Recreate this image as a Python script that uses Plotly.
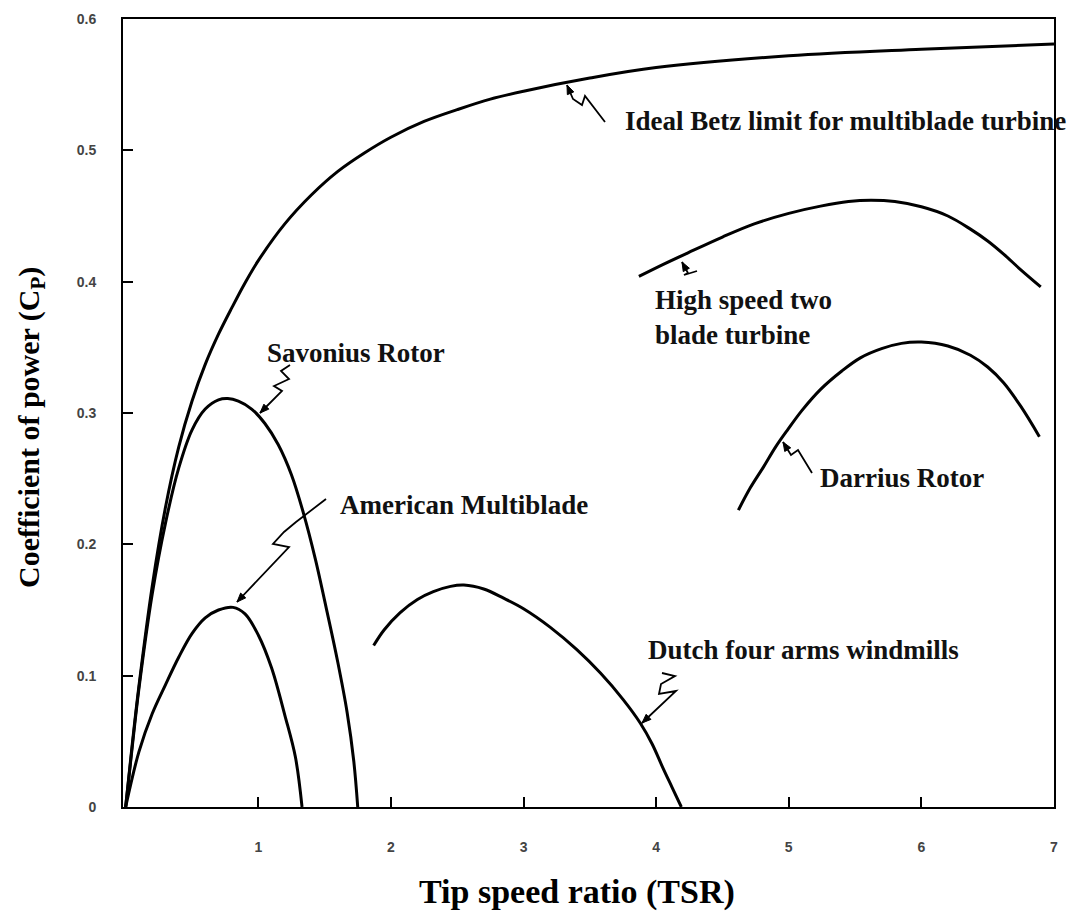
import math
import plotly.graph_objects as go

# ---------------- data ----------------
betz_x = [0.0, 0.05, 0.1, 0.2, 0.3, 0.4, 0.5, 0.6, 0.7, 0.8, 0.9, 1.0, 1.2, 1.4, 1.6, 1.8, 2.0, 2.25, 2.5, 2.75, 3.0, 3.5, 4.0, 5.0, 6.0, 7.0]
betz_y = [0.0, 0.048, 0.092, 0.168, 0.228, 0.274, 0.309, 0.337, 0.360, 0.380, 0.399, 0.416, 0.444, 0.466, 0.484, 0.498, 0.510, 0.522, 0.531, 0.539, 0.545, 0.555, 0.563, 0.572, 0.577, 0.581]

savonius_x = [0.0, 0.05, 0.1, 0.2, 0.3, 0.4, 0.5, 0.6, 0.7, 0.77, 0.85, 0.95, 1.05, 1.15, 1.25, 1.34, 1.43, 1.52, 1.60, 1.67, 1.72, 1.75]
savonius_y = [0.0, 0.046, 0.090, 0.162, 0.216, 0.258, 0.287, 0.303, 0.310, 0.311, 0.309, 0.303, 0.292, 0.276, 0.253, 0.224, 0.189, 0.148, 0.110, 0.072, 0.035, 0.0]

american_x = [0.0, 0.1, 0.2, 0.3, 0.4, 0.5, 0.6, 0.7, 0.81, 0.9, 1.0, 1.1, 1.2, 1.28, 1.33]
american_y = [0.0, 0.042, 0.071, 0.093, 0.114, 0.132, 0.144, 0.150, 0.152, 0.147, 0.131, 0.106, 0.070, 0.038, 0.0]

dutch_x = [1.87, 1.95, 2.07, 2.2, 2.32, 2.45, 2.55, 2.7, 2.85, 3.0, 3.2, 3.4, 3.58, 3.75, 3.88, 3.97, 4.05, 4.12, 4.19]
dutch_y = [0.123, 0.135, 0.148, 0.158, 0.164, 0.168, 0.169, 0.166, 0.159, 0.151, 0.137, 0.120, 0.102, 0.082, 0.064, 0.048, 0.030, 0.015, 0.0]

highspeed_x = [3.87, 4.05, 4.24, 4.5, 4.74, 5.0, 5.24, 5.45, 5.62, 5.8, 6.0, 6.2, 6.37, 6.5, 6.62, 6.75, 6.9]
highspeed_y = [0.404, 0.413, 0.422, 0.434, 0.444, 0.452, 0.4575, 0.461, 0.462, 0.461, 0.457, 0.450, 0.440, 0.431, 0.421, 0.409, 0.396]

darrius_x = [4.62, 4.71, 4.81, 4.9, 4.99, 5.1, 5.24, 5.4, 5.54, 5.7, 5.85, 6.0, 6.2, 6.37, 6.5, 6.62, 6.75, 6.89]
darrius_y = [0.226, 0.243, 0.259, 0.274, 0.287, 0.302, 0.318, 0.332, 0.342, 0.349, 0.353, 0.354, 0.351, 0.344, 0.335, 0.323, 0.305, 0.282]

x_tickvals = [1, 2, 3, 4, 5, 6, 7]
x_ticktext = ["1", "2", "3", "4", "5", "6", "7"]
y_tickvals = [0, 0.1, 0.2, 0.3, 0.4, 0.5, 0.6]
y_ticktext = ["0", "0.1", "0.2", "0.3", "0.4", "0.5", "0.6"]

series = [
    ("Ideal Betz limit", betz_x, betz_y),
    ("Savonius Rotor", savonius_x, savonius_y),
    ("American Multiblade", american_x, american_y),
    ("Dutch four arms windmills", dutch_x, dutch_y),
    ("High speed two blade turbine", highspeed_x, highspeed_y),
    ("Darrius Rotor", darrius_x, darrius_y),
]

# ---------------- layout geometry ----------------
W, H = 1078, 912
ML, MR, MT, MB = 123, 24, 19, 105
PW, PH = W - ML - MR, H - MT - MB
XR = [-0.02, 7.0]
YR = [0.0, 0.6]


def px2x(px):
    return XR[0] + (px - ML) / PW * (XR[1] - XR[0])


def px2y(py):
    return YR[0] + (MT + PH - py) / PH * (YR[1] - YR[0])


fig = go.Figure()
for name, xs, ys in series:
    fig.add_trace(go.Scatter(x=xs, y=ys, mode="lines", name=name,
                             line=dict(color="black", width=3, shape="spline", smoothing=1.0),
                             showlegend=False, hoverinfo="skip"))

label_font = dict(family="Liberation Serif, Times New Roman, serif", size=27, color="#111")

labels = [
    ("<b>Ideal Betz limit for multiblade turbine</b>", 623, 121),
    ("<b>Savonius Rotor</b>", 265, 353),
    ("<b>American Multiblade</b>", 338, 505),
    ("<b>High speed two<br>blade turbine</b>", 653, 317),
    ("<b>Darrius Rotor</b>", 818, 478),
    ("<b>Dutch four arms windmills</b>", 646, 650),
]
annotations = []
for text, lx, ly in labels:
    annotations.append(dict(x=px2x(lx), y=px2y(ly), xref="x", yref="y", text=text,
                            showarrow=False, xanchor="left", yanchor="middle",
                            align="left", font=label_font))

# squiggle pointer decorations (pixel positions, first point = arrow tip)
squiggles = [
    [(567, 85), (573, 99), (582, 105), (585, 96), (605, 122)],
    [(260, 413), (282, 391), (274, 386), (289, 379), (281, 371), (290, 365)],
    [(237, 602), (289, 547), (273, 544), (284, 532), (296, 522), (326, 499)],
    [(642, 723), (676, 691), (659, 694), (661, 684), (675, 676), (662, 673)],
    [(682, 262), (688, 273), (684, 275), (697, 271)],
    [(783, 442), (791, 455), (798, 450), (812, 473)],
]
shapes = []
for pts in squiggles:
    path = "M " + " L ".join(f"{px2x(a)},{px2y(b)}" for a, b in pts)
    shapes.append(dict(type="path", path=path, xref="x", yref="y",
                       line=dict(color="black", width=1.8)))
    # small filled arrowhead at the tip
    (tx, ty), (nx, ny) = pts[0], pts[1]
    d = math.hypot(nx - tx, ny - ty)
    ux, uy = (nx - tx) / d, (ny - ty) / d
    L, hw = 9, 3.5
    bx, by = tx + ux * L, ty + uy * L
    p1 = (bx - uy * hw, by + ux * hw)
    p2 = (bx + uy * hw, by - ux * hw)
    tri = (f"M {px2x(tx)},{px2y(ty)} L {px2x(p1[0])},{px2y(p1[1])} "
           f"L {px2x(p2[0])},{px2y(p2[1])} Z")
    shapes.append(dict(type="path", path=tri, xref="x", yref="y",
                       line=dict(color="black", width=1), fillcolor="black"))

serif = "Liberation Serif, Times New Roman, serif"
annotations.append(dict(x=(577 - ML) / PW, y=-(892 - (MT + PH)) / PH, xref="paper", yref="paper",
                        text="<b>Tip speed ratio (TSR)</b>", showarrow=False,
                        xanchor="center", yanchor="middle",
                        font=dict(family=serif, size=34, color="black")))
annotations.append(dict(x=-(ML - 31) / PW, y=(MT + PH - 428) / PH, xref="paper", yref="paper",
                        text="<b>Coefficient of power (C<sub>P</sub>)</b>", showarrow=False,
                        xanchor="center", yanchor="middle", textangle=-90,
                        font=dict(family=serif, size=30, color="black")))

tick_font = dict(family="Liberation Sans, Arial, sans-serif", size=14, color="#444", weight="bold")

fig.update_layout(
    width=W, height=H,
    margin=dict(l=ML, r=MR, t=MT, b=MB, autoexpand=False),
    paper_bgcolor="white", plot_bgcolor="white",
    annotations=annotations, shapes=shapes,
    xaxis=dict(range=XR, tickvals=x_tickvals, ticktext=x_ticktext, ticks="inside",
               ticklen=10, tickwidth=2, tickcolor="black", showgrid=False, zeroline=False,
               showline=True, linecolor="black", linewidth=2, mirror=True,
               tickfont=tick_font, ticklabelstandoff=26),
    yaxis=dict(range=YR, tickvals=y_tickvals, ticktext=y_ticktext, ticks="inside",
               ticklen=10, tickwidth=2, tickcolor="black", showgrid=False, zeroline=False,
               showline=True, linecolor="black", linewidth=2, mirror=True,
               tickfont=tick_font, ticklabelstandoff=22),
)

fig.write_html("out.html")
